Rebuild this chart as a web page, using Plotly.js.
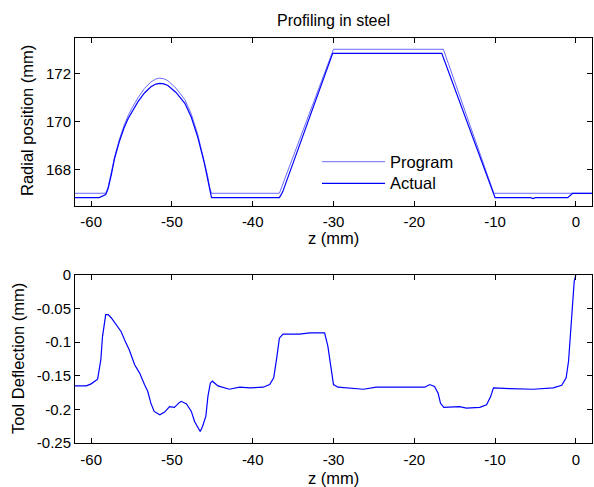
<!DOCTYPE html>
<html>
<head>
<meta charset="utf-8">
<script src="https://cdn.plot.ly/plotly-3.0.1.min.js"></script>
<style>html,body{margin:0;padding:0;background:#fff;}#chart{width:594px;height:487px;}</style>
</head>
<body>
<div id="chart"></div>
<script>
// ---- Data ----
const zProgram = [-62, -58.2, -57.9, -57.5, -57.1, -56.5, -55.9, -55.4, -55.0, -54.2, -53.4, -52.6, -52.0, -51.5, -51.0, -50.5, -49.5, -48.4, -47.6, -46.8, -46.0, -45.6, -45.3, -45.1, -36.7, -30.0, -16.4, -10.15, 2];
const rProgram = [167, 167, 167.25, 167.85, 168.52, 169.25, 169.85, 170.25, 170.52, 170.98, 171.37, 171.64, 171.76, 171.80, 171.77, 171.69, 171.38, 170.90, 170.30, 169.45, 168.40, 167.75, 167.20, 167.0, 167.0, 173.0, 173.0, 167.0, 167.0];

const zActual = [-62, -59.0, -58.2, -57.9, -57.5, -57.1, -56.5, -55.9, -55.4, -55.0, -54.2, -53.4, -52.6, -52.0, -51.5, -51.0, -50.5, -49.5, -48.4, -47.6, -46.8, -46.0, -45.6, -45.3, -45.1, -36.7, -36.3, -30.1, -16.6, -10.0, -5.6, -5.3, -5.0, -1.0, -0.4, 2];
const rActual = [166.82, 166.82, 166.95, 167.2, 167.78, 168.45, 169.17, 169.75, 170.13, 170.38, 170.82, 171.18, 171.44, 171.55, 171.58, 171.56, 171.49, 171.20, 170.75, 170.17, 169.33, 168.28, 167.62, 167.08, 166.82, 166.82, 167.05, 172.83, 172.83, 166.82, 166.82, 166.78, 166.82, 166.82, 167.0, 167.0];

const zDefl = [-62, -60.6, -60.0, -59.2, -58.8, -58.6, -58.2, -57.9, -57.5, -56.9, -56.3, -55.7, -55.3, -54.6, -54.0, -53.4, -53.0, -52.6, -52.2, -51.5, -50.9, -50.3, -49.7, -49.1, -48.85, -48.2, -47.6, -47.2, -46.8, -46.5, -46.2, -45.8, -45.55, -45.25, -45.0, -44.3, -42.9, -41.6, -40.4, -38.7, -37.9, -37.4, -37.0, -36.7, -36.25, -35.0, -34.2, -32.95, -31.7, -31.1, -30.7, -30.3, -30.0, -29.45, -28.0, -26.3, -24.7, -23.0, -21.4, -20.15, -18.7, -18.1, -17.5, -17.05, -16.75, -16.35, -15.2, -14.4, -13.55, -11.9, -11.05, -10.55, -10.2, -9.5, -8.2, -5.3, -2.8, -1.75, -1.2, -0.9, -0.65, -0.4, -0.2, 0.0];
const deflection = [-0.165, -0.165, -0.162, -0.155, -0.126, -0.092, -0.059, -0.059, -0.064, -0.074, -0.084, -0.101, -0.111, -0.134, -0.146, -0.163, -0.173, -0.191, -0.203, -0.208, -0.204, -0.196, -0.197, -0.190, -0.188, -0.192, -0.203, -0.218, -0.228, -0.233, -0.225, -0.210, -0.181, -0.161, -0.158, -0.165, -0.170, -0.167, -0.168, -0.167, -0.163, -0.153, -0.121, -0.094, -0.088, -0.088, -0.088, -0.086, -0.086, -0.086, -0.106, -0.141, -0.163, -0.167, -0.168, -0.170, -0.167, -0.167, -0.167, -0.167, -0.167, -0.163, -0.166, -0.176, -0.191, -0.197, -0.197, -0.196, -0.198, -0.197, -0.193, -0.181, -0.168, -0.168, -0.169, -0.170, -0.168, -0.164, -0.153, -0.128, -0.089, -0.039, -0.009, 0.0];

const xTickVals = [-60, -50, -40, -30, -20, -10, 0];
const xTickText = ['-60', '-50', '-40', '-30', '-20', '-10', '0'];
const yTopTickVals = [168, 170, 172];
const yTopTickText = ['168', '170', '172'];
const yBotTickVals = [0, -0.05, -0.1, -0.15, -0.2, -0.25];
const yBotTickText = ['0', '-0.05', '-0.1', '-0.15', '-0.2', '-0.25'];

const seriesNames = ['Program', 'Actual'];
const chartTitle = 'Profiling in steel';
const xLabel = 'z (mm)';
const yTopLabel = 'Radial position (mm)';
const yBotLabel = 'Tool Deflection (mm)';

// ---- Styling ----
const FONT = 'Liberation Sans, Arial, sans-serif';
const TICK_SIZE = 15, LABEL_SIZE = 16.5, TITLE_SIZE = 16;
const progColor = 'rgb(105,105,255)';
const actColor = 'rgb(0,0,255)';

const traces = [
  {x: zProgram, y: rProgram, type: 'scatter', mode: 'lines', name: seriesNames[0],
   line: {color: progColor, width: 1}, xaxis: 'x', yaxis: 'y', showlegend: false},
  {x: zActual, y: rActual, type: 'scatter', mode: 'lines', name: seriesNames[1],
   line: {color: actColor, width: 1.2}, xaxis: 'x', yaxis: 'y', showlegend: false},
  {x: zDefl, y: deflection, type: 'scatter', mode: 'lines', name: 'Deflection',
   line: {color: actColor, width: 1.2}, xaxis: 'x2', yaxis: 'y2', showlegend: false}
];

const axisCommon = {
  showgrid: false, zeroline: false, showline: true, linecolor: '#000', linewidth: 1,
  mirror: 'ticks', ticks: 'inside', ticklen: 5, tickwidth: 1, tickcolor: '#000',
  tickfont: {family: FONT, size: TICK_SIZE, color: '#000'}, tickmode: 'array'
};

const W = 594, H = 487, mL = 75, mR = 2, mT = 38, mB = 44;
const pw = W - mL - mR, ph = H - mT - mB;
const px = v => (v - mL) / pw;
const py = v => (H - mB - v) / ph;

const layout = {
  width: W, height: H,
  margin: {l: mL, r: mR, t: mT, b: mB, pad: 0},
  paper_bgcolor: '#fff', plot_bgcolor: '#fff',
  font: {family: FONT, size: TICK_SIZE, color: '#000'},
  showlegend: false,
  title: {text: chartTitle, font: {family: FONT, size: TITLE_SIZE, color: '#000'},
          x: px(333.5), xref: 'paper', xanchor: 'center', y: 1 - 20 / H, yanchor: 'middle'},
  xaxis: Object.assign({}, axisCommon, {range: [-62, 2], domain: [0, 1], anchor: 'y',
          tickvals: xTickVals, ticktext: xTickText, ticklabelstandoff: 2}),
  yaxis: Object.assign({}, axisCommon, {range: [166.47, 173.47], domain: [py(206), 1], anchor: 'x',
          tickvals: yTopTickVals, ticktext: yTopTickText}),
  xaxis2: Object.assign({}, axisCommon, {range: [-62, 2], domain: [0, 1], anchor: 'y2',
          tickvals: xTickVals, ticktext: xTickText, ticklabelstandoff: 3}),
  yaxis2: Object.assign({}, axisCommon, {range: [-0.25, 0], domain: [0, py(275)], anchor: 'x2',
          tickvals: yBotTickVals, ticktext: yBotTickText}),
  annotations: [
    {text: xLabel, xref: 'paper', yref: 'paper', x: px(333.5), y: py(238), xanchor: 'center', yanchor: 'middle', showarrow: false, font: {family: FONT, size: LABEL_SIZE}},
    {text: xLabel, xref: 'paper', yref: 'paper', x: px(333.5), y: py(478), xanchor: 'center', yanchor: 'middle', showarrow: false, font: {family: FONT, size: LABEL_SIZE}},
    {text: yTopLabel, xref: 'paper', yref: 'paper', x: px(27), y: py(121), xanchor: 'center', yanchor: 'middle', textangle: -90, showarrow: false, font: {family: FONT, size: LABEL_SIZE}},
    {text: yBotLabel, xref: 'paper', yref: 'paper', x: px(18), y: py(359), xanchor: 'center', yanchor: 'middle', textangle: -90, showarrow: false, font: {family: FONT, size: LABEL_SIZE}},
    {text: seriesNames[0], xref: 'paper', yref: 'paper', x: px(388), y: py(161.7), xanchor: 'left', yanchor: 'middle', showarrow: false, font: {family: FONT, size: LABEL_SIZE}},
    {text: seriesNames[1], xref: 'paper', yref: 'paper', x: px(388), y: py(183.3), xanchor: 'left', yanchor: 'middle', showarrow: false, font: {family: FONT, size: LABEL_SIZE}}
  ],
  shapes: [
    {type: 'line', xref: 'paper', yref: 'paper', x0: px(322), x1: px(385), y0: py(161.7), y1: py(161.7), line: {color: progColor, width: 1}},
    {type: 'line', xref: 'paper', yref: 'paper', x0: px(322), x1: px(385), y0: py(183.3), y1: py(183.3), line: {color: actColor, width: 1.2}}
  ]
};

Plotly.newPlot('chart', traces, layout, {staticPlot: true, displayModeBar: false});
</script>
</body>
</html>
